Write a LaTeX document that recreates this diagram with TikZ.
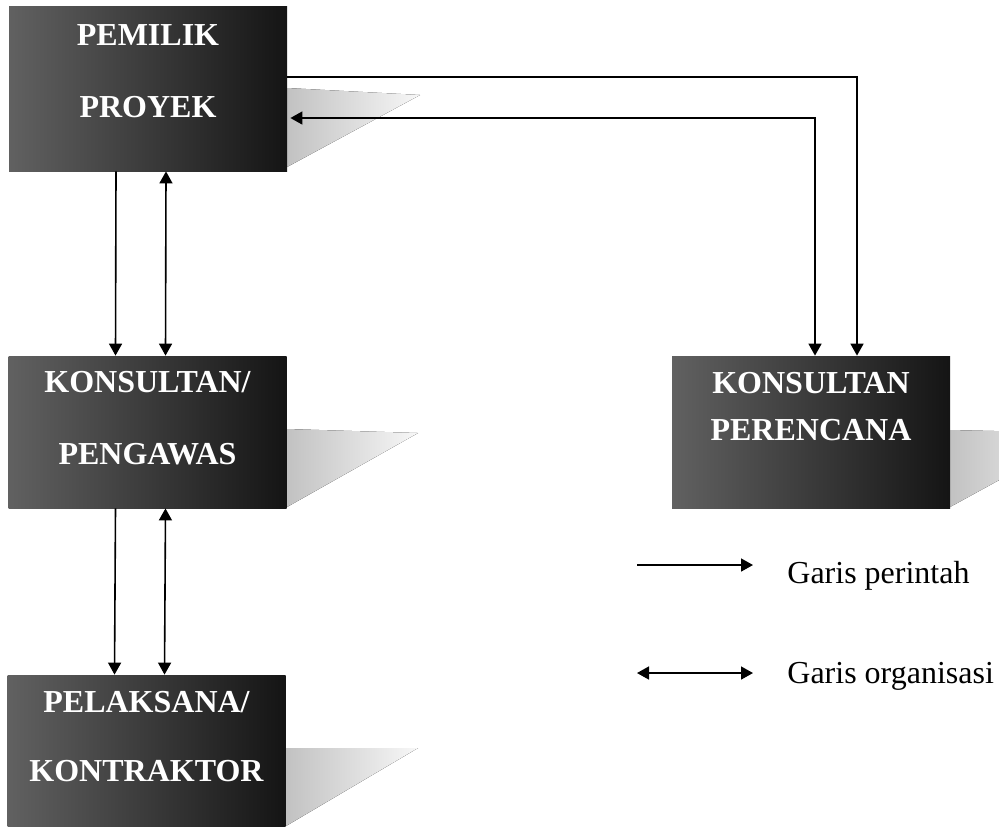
\documentclass[tikz,border=0pt]{standalone}
\usepackage{fontspec}
\setmainfont{Liberation Serif}
\usetikzlibrary{arrows.meta,positioning}

\begin{document}
\begin{tikzpicture}[x=0.5pt,y=-0.5pt,
  >={Triangle[length=6pt,width=6.5pt]},
  kotak/.style={rectangle,inner sep=0pt,minimum width=139pt,left color=black!62,right color=black!92},
  judul/.style={text=white,align=center,font=\bfseries\fontsize{16}{19}\selectfont},
  bayang/.style={left color=black!24,right color=black!3,draw=none},
  garis/.style={line width=0.8pt},
  ket/.style={anchor=base west,inner sep=0pt,font=\fontsize{16}{19}\selectfont}]
\useasboundingbox (0,0) rectangle (999,827);
\fill[bayang] (287,88) -- (420,95) -- (287,167) -- cycle;
\fill[bayang] (287,429) -- (418,433) -- (287,507) -- cycle;
\fill[bayang] (950,430) -- (1085,433) -- (950,507) -- cycle;
\fill[bayang] (286,748) -- (418,748) -- (286,826) -- cycle;
\node[kotak,minimum height=82.5pt] (pemilik) at (148,88.5) {};
\node[kotak,minimum height=76pt] (pengawas) at (147.5,432) {};
\node[kotak,minimum height=76pt] (perencana) at (811,432) {};
\node[kotak,minimum height=75.5pt] (pelaksana) at (146.5,750.5) {};
\node[judul] at (148,71) {PEMILIK\\[17pt]PROYEK};
\node[judul] at (147.5,418.5) {KONSULTAN/\\[17pt]PENGAWAS};
\node[judul] at (811,406.5) {KONSULTAN\\[4.5pt]PERENCANA};
\node[judul] at (146.5,737) {PELAKSANA/\\[15.5pt]KONTRAKTOR};
\draw[garis,->] ([xshift=-16pt]pemilik.south) -- ([xshift=-16pt]pengawas.north);
\draw[garis,<->] ([xshift=9pt]pemilik.south) -- ([xshift=9pt]pengawas.north);
\draw[garis,->] ([xshift=-16pt]pengawas.south) -- ([xshift=-16pt]pelaksana.north);
\draw[garis,<->] ([xshift=9pt]pengawas.south) -- ([xshift=9pt]pelaksana.north);
\draw[garis,->] ([yshift=5.75pt]pemilik.east) -| ([xshift=23pt]perencana.north);
\draw[garis,<->] ([yshift=-14.75pt,xshift=1.5pt]pemilik.east) -| ([xshift=2pt]perencana.north);
\coordinate (p1) at (637,565);
\coordinate (p2) at (753,565);
\coordinate (o1) at (637,673);
\coordinate (o2) at (753,673);
\draw[garis,->] (p1) -- (p2);
\draw[garis,<->] (o1) -- (o2);
\node[ket] (perintah) at (787,583) {Garis perintah};
\node[ket] (organisasi) at (787,683) {Garis organisasi};
\end{tikzpicture}
\end{document}
